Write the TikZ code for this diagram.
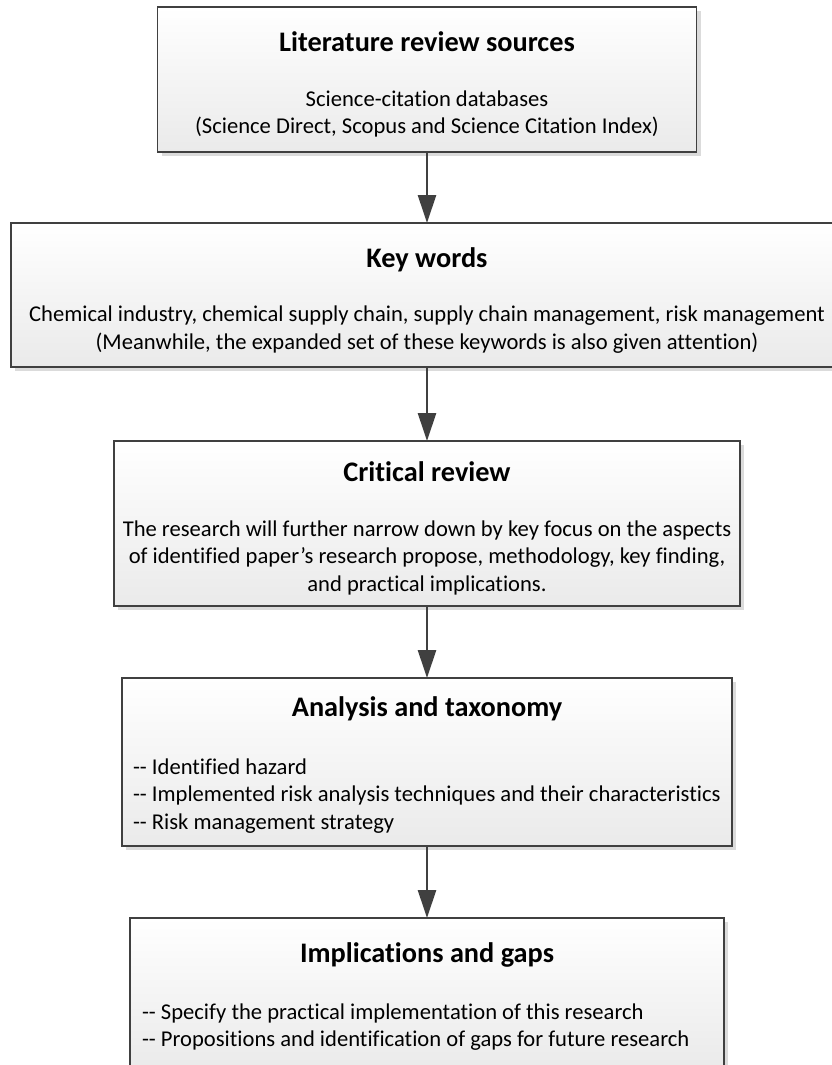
\documentclass[tikz,border=0pt]{standalone}
\usepackage{fontspec}
\setmainfont{Carlito}[Ligatures=NoCommon]
\usetikzlibrary{positioning,shadows,arrows.meta}
\definecolor{boxline}{RGB}{64,64,64}
\definecolor{boxbottom}{RGB}{234,234,234}
\newcommand\headline[1]{{\fontsize{28.3}{30}\selectfont\bfseries\rule{0pt}{30pt}#1}}

\begin{document}
\begin{tikzpicture}[x=1pt, y=1pt]
  \tikzstyle{stage} = [rectangle, draw=boxline, line width=1.4pt, top color=white, bottom color=boxbottom,
                       outer sep=0pt, inner sep=0pt, align=center, font=\fontsize{22.6}{27.5}\selectfont,
                       drop shadow={shadow xshift=4pt, shadow yshift=-4pt, fill=black!14, opacity=1}]
  \tikzstyle{flow} = [-{Triangle[length=28pt, width=18pt]}, draw=boxline, line width=2.6pt]
\useasboundingbox (0,0) rectangle (831,-1065);
\node[stage, minimum width=539pt, minimum height=145pt] (lit) at (427,-79.5) {\headline{Literature review sources}\\[27pt] Science-citation databases\\ (Science Direct, Scopus and Science Citation Index)};
\node[stage, below=71pt of lit, minimum width=832pt, minimum height=144pt] (kw) {\headline{Key words}\\[27pt] Chemical industry, chemical supply chain, supply chain management, risk management\\ (Meanwhile, the expanded set of these keywords is also given attention)};
\node[stage, below=74pt of kw, minimum width=626pt, minimum height=165pt] (crit) {\headline{Critical review}\\[27pt] The research will further narrow down by key focus on the aspects\\ of identified paper’s research propose, methodology, key finding,\\ and practical implications.};
\node[stage, below=72pt of crit, text width=588pt, inner xsep=11pt, align=flush left, minimum height=168pt] (ana) {\spaceskip=0pt\xspaceskip=0pt{\centering\headline{Analysis and taxonomy}\par}\vspace{30pt}\noindent\begin{tabular}[t]{@{}l@{}}-{}- Identified hazard\\ -{}- Implemented risk analysis techniques and their characteristics\\ -{}- Risk management strategy\end{tabular}};
\node[stage, below=72pt of ana, text width=570pt, inner xsep=12pt, align=flush left, minimum height=152pt] (impl) {\spaceskip=0pt\xspaceskip=0pt{\centering\headline{Implications and gaps}\par}\vspace{29pt}\noindent\begin{tabular}[t]{@{}l@{}}-{}- Specify the practical implementation of this research\\ -{}- Propositions and identification of gaps for future research\end{tabular}};
\draw[flow] (lit) -- (kw);
\draw[flow] (kw) -- (crit);
\draw[flow] (crit) -- (ana);
\draw[flow] (ana) -- (impl);
\end{tikzpicture}
\end{document}
